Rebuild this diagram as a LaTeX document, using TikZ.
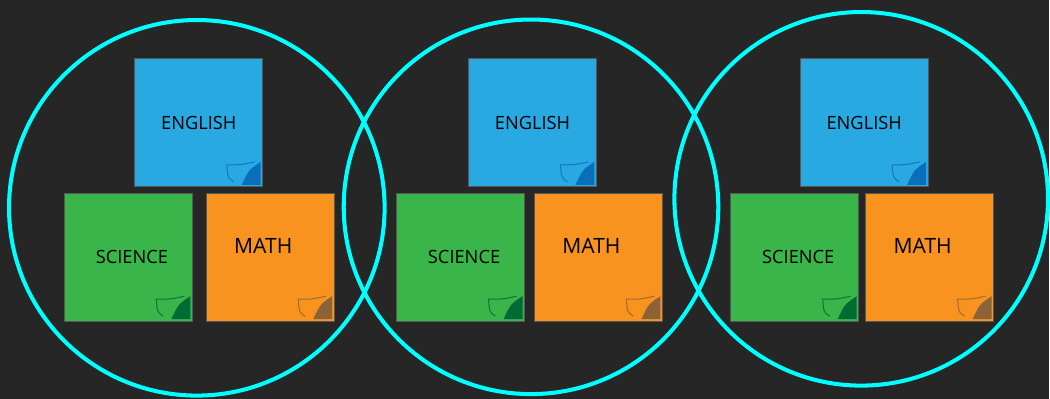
\documentclass[tikz,border=0pt]{standalone}
\usepackage{fontspec}
\setmainfont{Open Sans}
\usepackage{tikz}
\usetikzlibrary{calc}
\definecolor{backdrop}{HTML}{262626}
\definecolor{ringcyan}{HTML}{00FFFF}
\definecolor{edgegray}{HTML}{575757}
\definecolor{engblue}{HTML}{29A9E1}
\definecolor{engfold}{HTML}{0A6FBA}
\definecolor{scigreen}{HTML}{39B54A}
\definecolor{scifold}{HTML}{016A35}
\definecolor{mathorange}{HTML}{F7931E}
\definecolor{mathfold}{HTML}{8C6239}
\tikzset{foldcol/.code={\def\foldc{#1}}}

\begin{document}
\begin{tikzpicture}[x=0.02cm, y=-0.02cm]
		\tikzstyle{note} = [draw=edgegray, line width=0.6pt, minimum size=2.56cm, inner sep=0,
		text=black, font=\fontsize{10.4}{12}\selectfont,
		path picture={
			\coordinate (fc) at (path picture bounding box.south east);
			\fill [\foldc] ($(fc)+(-2,-25)$) -- ($(fc)+(-2,-2)$) -- ($(fc)+(-21,-2)$) .. controls ($(fc)+(-14,-17)$) .. cycle;
			\draw [\foldc, line width=0.6pt, opacity=0.8] ($(fc)+(-8,-25)$) .. controls ($(fc)+(-22,-22)$) .. ($(fc)+(-36,-22)$) .. controls ($(fc)+(-35,-9)$) .. ($(fc)+(-29,-5)$);
		}]
		\tikzstyle{english} = [note, fill=engblue, foldcol=engfold]
		\tikzstyle{science} = [note, fill=scigreen, foldcol=scifold]
		\tikzstyle{math} = [note, fill=mathorange, foldcol=mathfold]
		\tikzstyle{mathtext} = [font=\fontsize{12}{14}\selectfont, text=black, inner sep=0, shift={(-7,-11)}]
		\tikzstyle{ring} = [draw=ringcyan, line width=2.3pt]
		\fill [backdrop] (0,0) rectangle (1050,399);
		
		% first group
		\node [english] (eng1) at (199,123) {ENGLISH};
		\node [science] (sci1) at (128.5,257.5) {\hspace{0.14cm}SCIENCE};
		\node [math, label={[mathtext]center:MATH}] (mat1) at (270.5,257.5) {};
		\draw [ring] (197,208) circle [radius=3.76cm];
		
		% second group
		\node [english] (eng2) at (533,123) {ENGLISH};
		\node [science] (sci2) at (461,257.5) {\hspace{0.14cm}SCIENCE};
		\node [math, label={[mathtext]center:MATH}] (mat2) at (599,257.5) {};
		\draw [ring] (531.5,207) circle [radius=3.75cm];
		
		% third group
		\node [english] (eng3) at (865,123) {ENGLISH};
		\node [science] (sci3) at (795.5,257.5) {\hspace{0.14cm}SCIENCE};
		\node [math, label={[mathtext]center:MATH}] (mat3) at (930.5,257.5) {};
		\draw [ring] (862,199) circle [radius=3.74cm];
\end{tikzpicture}
\end{document}
